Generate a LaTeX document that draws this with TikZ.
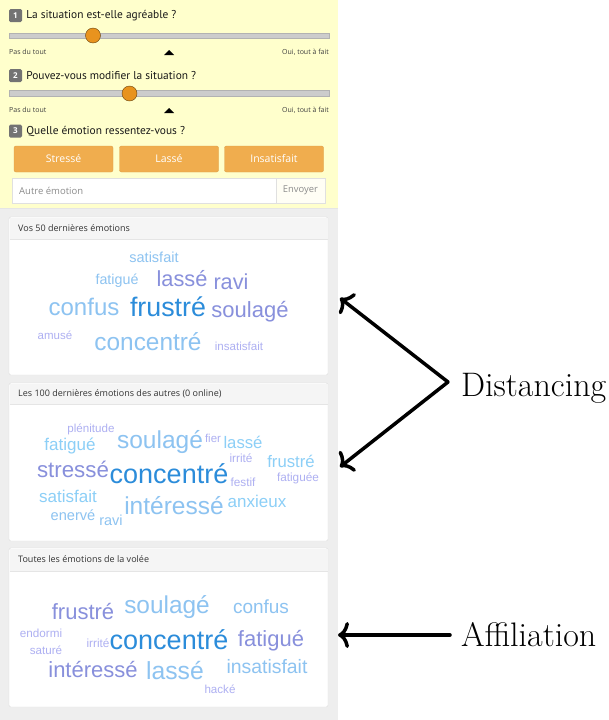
\documentclass[tikz,border=0pt]{standalone}
\usepackage{fontspec}
\newfontfamily\uifont{Open Sans}
\newfontfamily\askfont{PT Sans}
\newfontfamily\cloudfont{Liberation Sans}
\usetikzlibrary{arrows.meta}
\usetikzlibrary{positioning}

\definecolor{panelyellow}{HTML}{FFFFCC}
\definecolor{panelgrey}{HTML}{EEEEEE}
\definecolor{btnorange}{HTML}{F0AD4E}
\definecolor{knoborange}{HTML}{E8931E}
\definecolor{cloudlight}{HTML}{8DC3F1}
\definecolor{cloudsky}{HTML}{8CCFF7}
\definecolor{cloudblue}{HTML}{2B8CDA}
\definecolor{cloudpurple}{HTML}{8890DC}
\definecolor{cloudlav}{HTML}{AEB0F2}

\newcommand{\ws}[1]{\cloudfont\fontsize{#1}{#1}\selectfont}
\newcommand{\us}[1]{\uifont\fontsize{#1}{#1}\selectfont}

\begin{document}
\begin{tikzpicture}[x=1pt, y=-1pt, >={To[length=11pt,width=26pt,round]}]
    \tikzstyle{badge}=[fill=black!55, rounded corners=1.5pt, minimum size=13pt, inner sep=0pt, text=white, font=\us{8}\bfseries]
    \tikzstyle{question}=[inner sep=0pt, text=black!90, font=\askfont\fontsize{11.4}{11.4}\selectfont]
    \tikzstyle{track}=[fill=black!20, draw=black!30]
    \tikzstyle{knob}=[circle, fill=knoborange, draw=black!55!knoborange, minimum size=15pt, inner sep=0pt]
    \tikzstyle{endlabel}=[inner sep=0pt, text=black!75, font=\us{7}]
    \tikzstyle{button}=[fill=btnorange, draw=btnorange!92!black, rounded corners=2pt, minimum width=99pt, minimum height=26pt, text=white, font=\us{10.5}]
    \tikzstyle{field}=[draw=black!12]
    \tikzstyle{panel}=[fill=white, draw=black!13, rounded corners=1.5pt]
    \tikzstyle{header}=[anchor=west, inner sep=0pt, text=black!80, font=\us{9}]
    \tikzstyle{word}=[inner sep=0pt]
    \tikzstyle{pointer}=[->, line width=3.5pt, line cap=round]
    \tikzstyle{tag}=[inner sep=0pt, anchor=base west, font=\fontsize{34}{40}\selectfont]
    \useasboundingbox (0,0) rectangle (609,720);
    \fill[panelyellow] (0,0) rectangle (338,208);
    \fill[panelgrey] (0,208) rectangle (338,720);
    \draw[black!10] (0,208.5) -- (338,208.5);

    % question 1
    \node[badge]    (n_1) at (15.5,15.5)    {1};
    \node[question] (q_1)[right=4pt of n_1] {La situation est-elle agréable ?};
    \draw[track] (9,33) rectangle (329,38.5);
    \node[knob]     (k_1) at (93,35.5)      {};
    \node[endlabel, anchor=west] (l_1) at (9,52)   {Pas du tout};
    \node[endlabel, anchor=east] (r_1) at (329,52) {Oui, tout à fait};
    \fill (164,55) -- (174,55) -- (169,50) -- cycle;

    % question 2
    \node[badge]    (n_2) at (15.5,75.5)    {2};
    \node[question] (q_2)[right=4pt of n_2] {Pouvez-vous modifier la situation ?};
    \draw[track] (9,90.5) rectangle (329,96);
    \node[knob]     (k_2) at (129.5,93.5)   {};
    \node[endlabel, anchor=west] (l_2) at (9,110)   {Pas du tout};
    \node[endlabel, anchor=east] (r_2) at (329,110) {Oui, tout à fait};
    \fill (164,113) -- (174,113) -- (169,108) -- cycle;

    % question 3
    \node[badge]    (n_3) at (15.5,131)     {3};
    \node[question] (q_3)[right=4pt of n_3] {Quelle émotion ressentez-vous ?};
    \node[button]   (b_1) at (63.5,159)     {Stressé};
    \node[button]   (b_2) at (169,159)      {Lassé};
    \node[button]   (b_3) at (274,159)      {Insatisfait};
    \draw[field, fill=white] (12,178) rectangle (276,203);
    \draw[field, fill=yellow!4] (276,178) rectangle (325,203);
    \node[endlabel, anchor=west, text=black!45, font=\us{9.5}] (e_0) at (19,190.5) {Autre émotion};
    \node[endlabel, text=black!45, font=\us{9.4}] (e_1) at (300.5,190.5) {Envoyer};

    % panel 1
    \draw[panel] (9,217) rectangle (328,375);
    \fill[black!4] (9.5,217.5) rectangle (327.5,239);
    \draw[black!10] (9.5,239) -- (327.5,239);
    \node[header] (h_1) at (18,228) {Vos 50 dernières émotions};
    \node[word, text=cloudlight,  font=\ws{14.5}] (w1_satisfait)   at (154,257) {satisfait};
    \node[word, text=cloudlight,  font=\ws{14.3}] (w1_fatigue)     at (117,281) {fatigué};
    \node[word, text=cloudpurple, font=\ws{21.8}] (w1_lasse)       at (182,279) {lassé};
    \node[word, text=cloudpurple, font=\ws{21.7}] (w1_ravi)        at (231,282) {ravi};
    \node[word, text=cloudlight,  font=\ws{24}]   (w1_confus)      at (84,307)  {confus};
    \node[word, text=cloudblue,   font=\ws{26.8}] (w1_frustre)     at (168,307) {frustré};
    \node[word, text=cloudpurple, font=\ws{22}]   (w1_soulage)     at (250,312) {soulagé};
    \node[word, text=cloudlav,    font=\ws{11.5}] (w1_amuse)       at (55,335)  {amusé};
    \node[word, text=cloudlight,  font=\ws{24.4}] (w1_concentre)   at (148,342) {concentré};
    \node[word, text=cloudlav,    font=\ws{11.6}] (w1_insatisfait) at (239,346) {insatisfait};

    % panel 2
    \draw[panel] (9,383) rectangle (328,541);
    \fill[black!4] (9.5,383.5) rectangle (327.5,404);
    \draw[black!10] (9.5,404) -- (327.5,404);
    \node[header] (h_2) at (18,394) {Les 100 dernières émotions des autres (0 online)};
    \node[word, text=cloudlav,    font=\ws{11.6}] (w2_plenitude)   at (91,429)  {plénitude};
    \node[word, text=cloudsky,    font=\ws{17}]   (w2_fatigue)     at (70,446)  {fatigué};
    \node[word, text=cloudlight,  font=\ws{24.5}] (w2_soulage)     at (160,442) {soulagé};
    \node[word, text=cloudlav,    font=\ws{11.5}] (w2_fier)        at (213,438) {fier};
    \node[word, text=cloudsky,    font=\ws{16.7}] (w2_lasse)       at (243,442) {lassé};
    \node[word, text=cloudlav,    font=\ws{11.8}] (w2_irrite)      at (241,458) {irrité};
    \node[word, text=cloudsky,    font=\ws{16.7}] (w2_frustre)     at (291,461) {frustré};
    \node[word, text=cloudpurple, font=\ws{22.3}] (w2_stresse)     at (73,469)  {stressé};
    \node[word, text=cloudblue,   font=\ws{27}]   (w2_concentre)   at (169,474) {concentré};
    \node[word, text=cloudlav,    font=\ws{11.8}] (w2_festif)      at (243,482) {festif};
    \node[word, text=cloudlav,    font=\ws{11.8}] (w2_fatiguee)    at (298,478) {fatiguée};
    \node[word, text=cloudsky,    font=\ws{17}]   (w2_satisfait)   at (68,496)  {satisfait};
    \node[word, text=cloudsky,    font=\ws{17}]   (w2_anxieux)     at (257,501) {anxieux};
    \node[word, text=cloudlight,  font=\ws{24.5}] (w2_interesse)   at (174,506) {intéressé};
    \node[word, text=cloudlight,  font=\ws{14.6}] (w2_enerve)      at (73,515)  {enervé};
    \node[word, text=cloudlight,  font=\ws{14.5}] (w2_ravi)        at (111,520) {ravi};

    % panel 3
    \draw[panel] (9,548) rectangle (328,707);
    \fill[black!4] (9.5,548.5) rectangle (327.5,571);
    \draw[black!10] (9.5,571) -- (327.5,571);
    \node[header] (h_3) at (18,559) {Toutes les émotions de la volée};
    \node[word, text=cloudpurple, font=\ws{22}]   (w3_frustre)     at (83,611)  {frustré};
    \node[word, text=cloudlight,  font=\ws{24.4}] (w3_soulage)     at (167,607) {soulagé};
    \node[word, text=cloudlight,  font=\ws{19}]   (w3_confus)      at (261,607) {confus};
    \node[word, text=cloudlav,    font=\ws{11.7}] (w3_endormi)     at (41,633)  {endormi};
    \node[word, text=cloudlav,    font=\ws{11.6}] (w3_sature)      at (46,650)  {saturé};
    \node[word, text=cloudlav,    font=\ws{11.8}] (w3_irrite)      at (98,643)  {irrité};
    \node[word, text=cloudblue,   font=\ws{27}]   (w3_concentre)   at (169,640) {concentré};
    \node[word, text=cloudpurple, font=\ws{22}]   (w3_fatigue)     at (271,641) {fatigué};
    \node[word, text=cloudpurple, font=\ws{22}]   (w3_interesse)   at (93,669)  {intéressé};
    \node[word, text=cloudlight,  font=\ws{24.7}] (w3_lasse)       at (175,671) {lassé};
    \node[word, text=cloudlight,  font=\ws{19.4}] (w3_insatisfait) at (267,667) {insatisfait};
    \node[word, text=cloudlav,    font=\ws{11.6}] (w3_hacke)       at (220,689) {hacké};

    % labels and pointers
    \node[tag] (dist) at (461,396) {Distancing};
    \node[tag] (affi) at (461,646) {Affiliation};
    \coordinate (d_0) at (448,382);
    \coordinate (d_1) at (340,298);
    \coordinate (d_2) at (340,467);
    \coordinate (a_0) at (450,635);
    \coordinate (a_1) at (338,635);
    \draw[pointer] (d_0) -- (d_1);
    \draw[pointer] (d_0) -- (d_2);
    \draw[pointer] (a_0) -- (a_1);
%   \draw[red] (d_0) circle (2pt);
\end{tikzpicture}
\end{document}
